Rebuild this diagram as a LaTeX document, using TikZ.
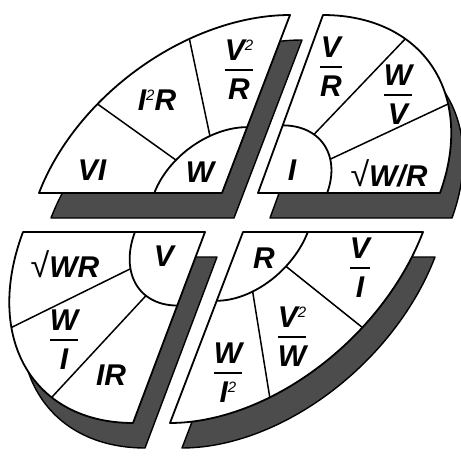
\documentclass[tikz,border=0pt]{standalone}
\usepackage{fontspec}
\setmainfont{Liberation Sans}
\tikzset{
  outl/.style={line width=1.8pt, line join=round},
  spoke/.style={line width=1.5pt},
  shad/.style={fill=black!70, draw=black, line width=1.4pt, line join=round},
  lbl/.style={font=\fontsize{30}{31}\selectfont\bfseries\itshape, inner sep=0pt},
}
\newcommand\sq{\raisebox{10pt}{\fontsize{15}{15}\selectfont\mdseries 2}}
\newcommand\rt{{\fontsize{34}{34}\selectfont\mdseries\upshape √}}
\newcommand\frc[2]{\begin{tabular}{@{}c@{}}#1\\[-1pt]\hline\rule{0pt}{29pt}#2\end{tabular}}
\setlength\arrayrulewidth{1.8pt}
\newcommand\quadrant[8]{%
  \begin{scope}[shift={(#1+12,#2+25)},x={(#3pt,0pt)},y={(#4pt,#5pt)}]
    \path[shad] (0,0) -- plot[domain=#6:#7,samples=60] ({cos(\x)},{sin(\x)}) -- cycle;
  \end{scope}
  \begin{scope}[shift={(#1,#2)},x={(#3pt,0pt)},y={(#4pt,#5pt)}]
    \path[outl, draw, fill=white] (0,0) -- plot[domain=#6:#7,samples=60] ({cos(\x)},{sin(\x)}) -- cycle;
    \draw[outl] plot[domain=#6:#7,samples=40] ({#8*cos(\x)},{#8*sin(\x)});
    \foreach \a in {30,60} {\draw[spoke] ({#8*cos(#6+\a)},{#8*sin(#6+\a)}) -- ({cos(#6+\a)},{sin(#6+\a)});}
  \end{scope}}
\begin{document}
\begin{tikzpicture}[x=1pt,y=-1pt]
\useasboundingbox (0,0) rectangle (461,460);
\quadrant{222}{193}{183}{68}{178}{90}{180}{0.37}
\quadrant{258}{193}{182}{65}{178}{0}{90}{0.38}
\quadrant{205}{232}{182}{72}{191}{180}{270}{0.385}
\quadrant{243}{232}{180}{73}{191}{270}{360}{0.36}
% top-left: W
\node[lbl] (vi) at (92,170) {VI};
\node[lbl] (i2r) at (157,100) {I\sq R};
\node[lbl] (v2r) at (239,74) {\frc{V\sq}{R}};
\node[lbl] (w) at (200,172) {W};
% top-right: I
\node[lbl] (vr) at (331,71) {\frc{V}{R}};
\node[lbl] (wv) at (398,99) {\frc{W}{V}};
\node[lbl] (swr) at (389,173) {\rt W/R};
\node[lbl] (i) at (292,170) {I};
% bottom-left: V
\node[lbl] (swr2) at (65,264) {\rt WR};
\node[lbl] (v) at (164,256) {V};
\node[lbl] (wi) at (64,344) {\frc{W}{I}};
\node[lbl] (ir) at (111,375) {IR};
% bottom-right: R
\node[lbl] (r) at (264,258) {R};
\node[lbl] (vi2) at (360,272) {\frc{V}{I}};
\node[lbl] (v2w) at (292,341) {\frc{V\sq}{W}};
\node[lbl] (wi2) at (228,377) {\frc{W}{I\sq}};
\end{tikzpicture}
\end{document}
